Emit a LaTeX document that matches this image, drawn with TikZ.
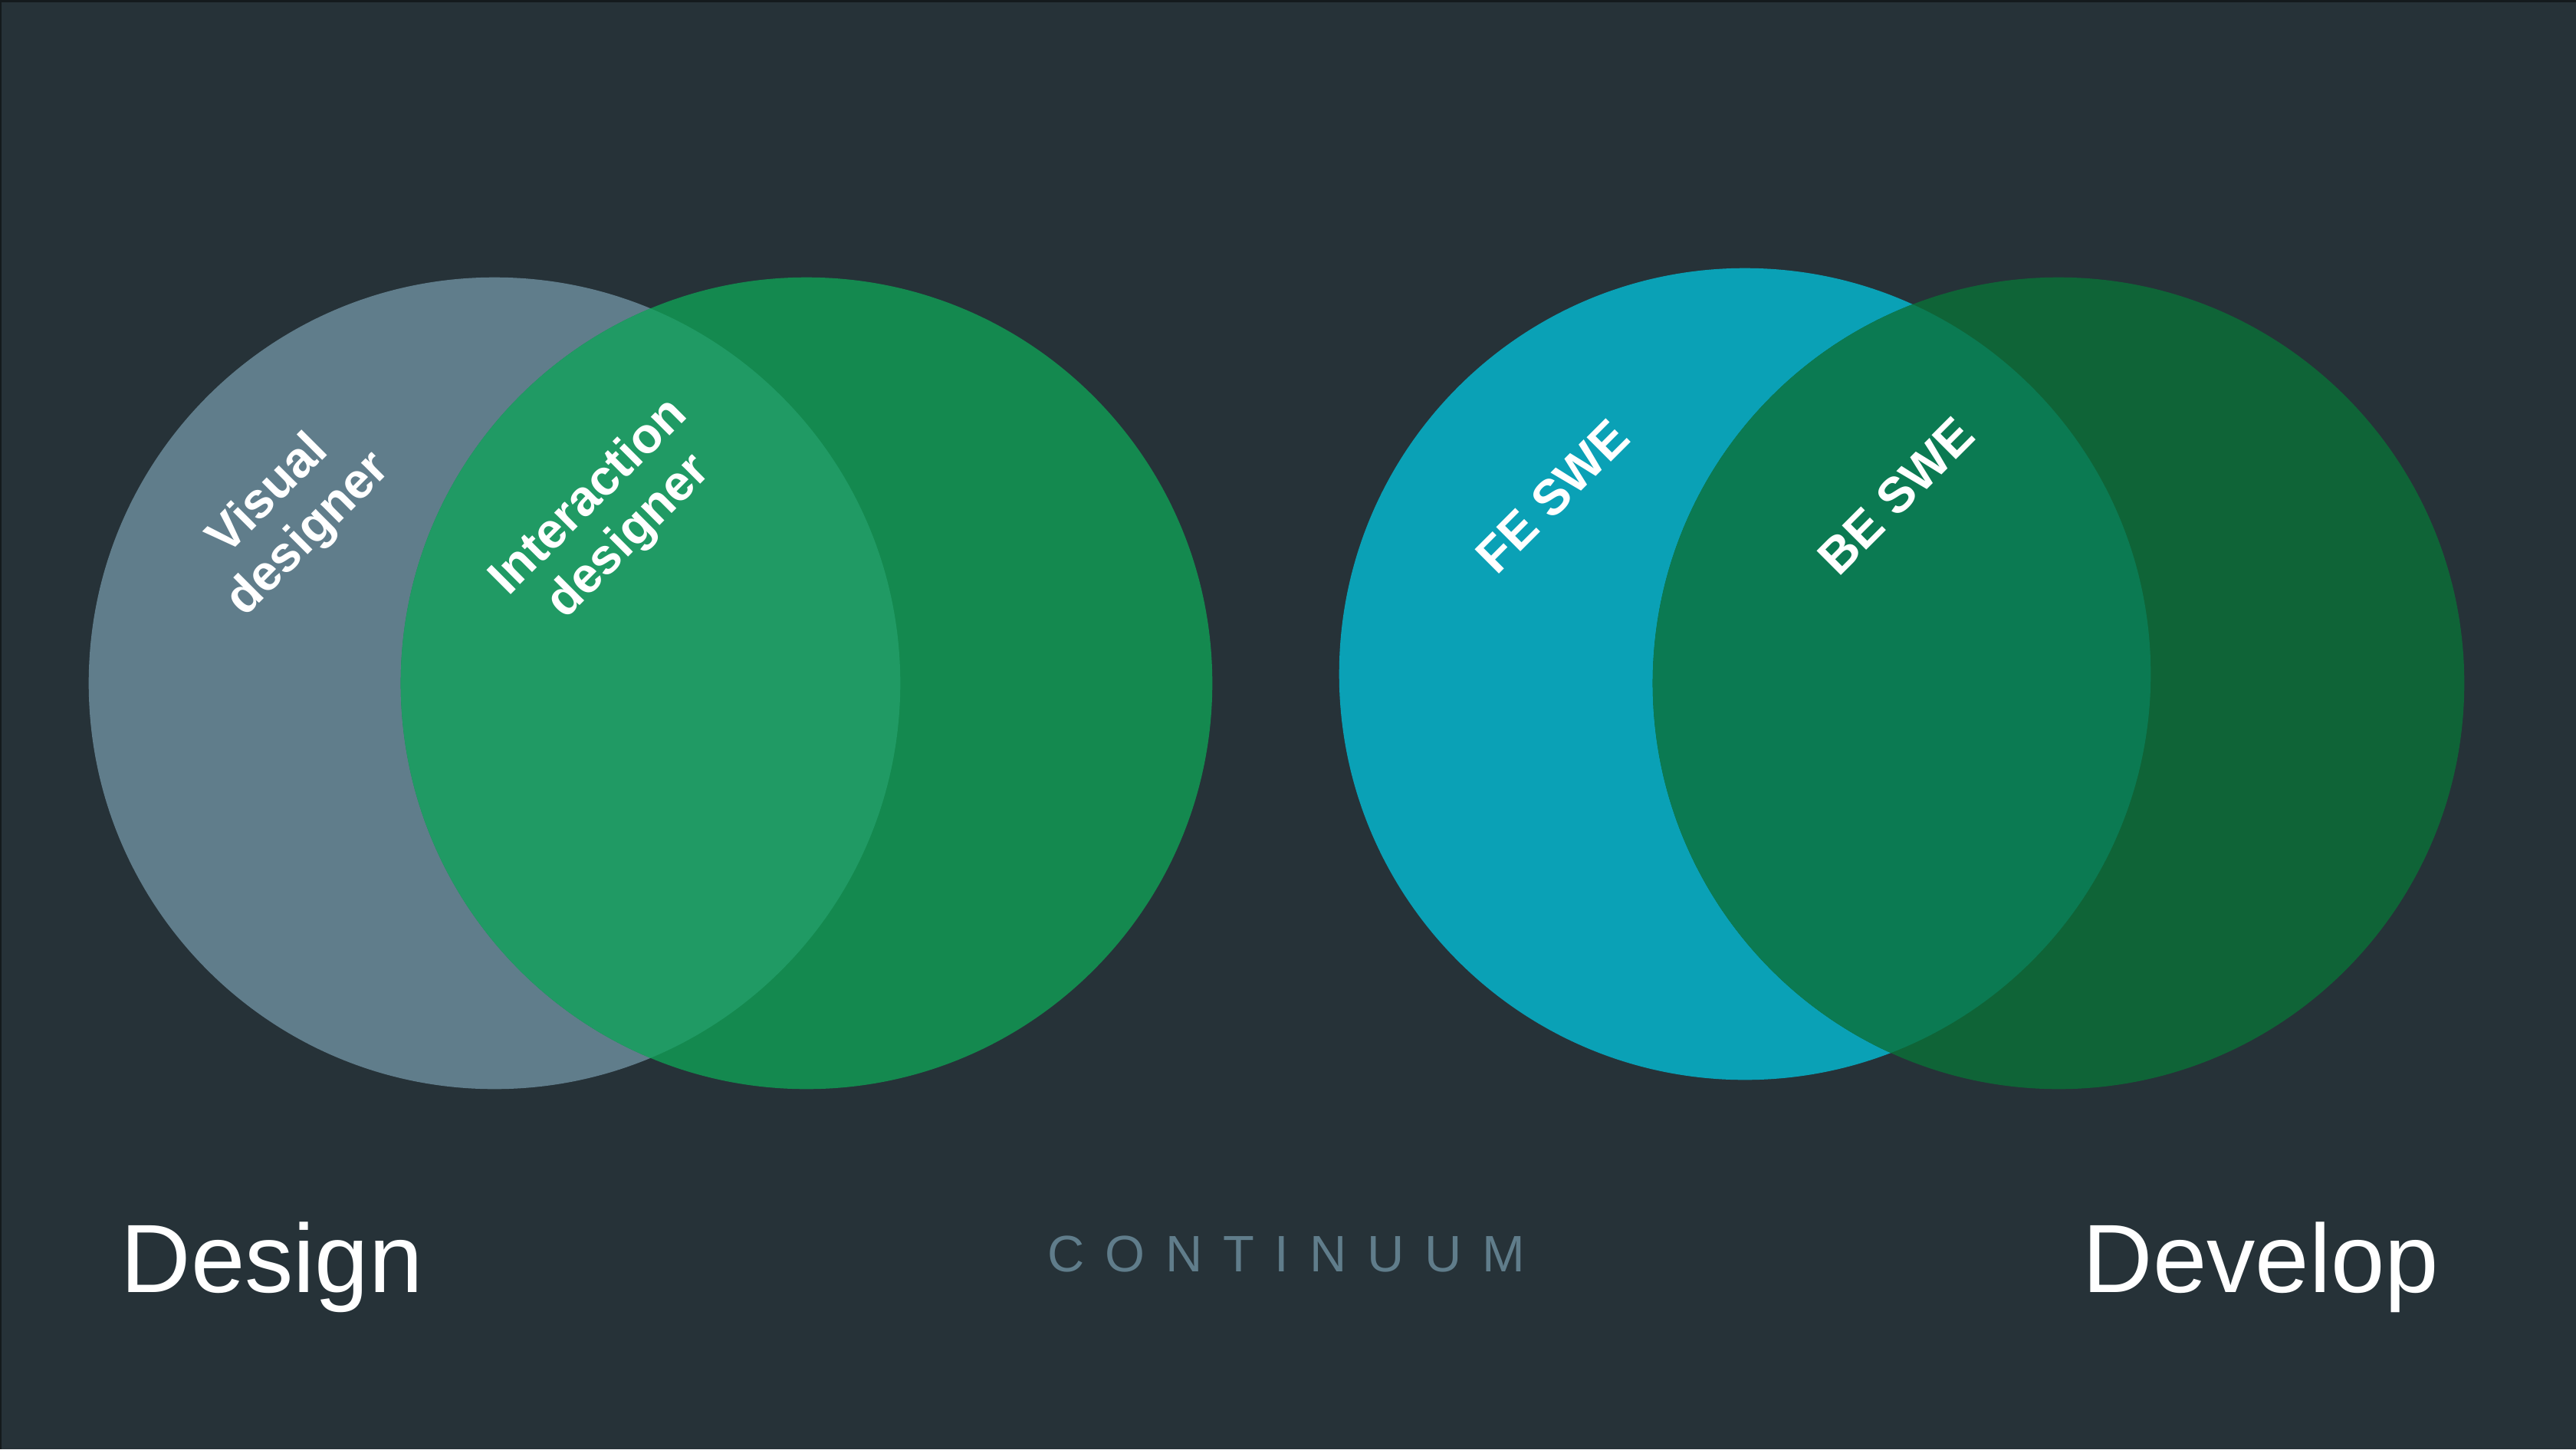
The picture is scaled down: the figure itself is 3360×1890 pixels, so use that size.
\documentclass[tikz,border=0pt]{standalone}
\usepackage{fontspec}
\setmainfont{Liberation Sans}
\definecolor{bg}{HTML}{263238}
\definecolor{frame}{HTML}{141A1D}
\definecolor{slate}{HTML}{607D8B}
\definecolor{leaf}{HTML}{14894F}
\definecolor{leafmix}{HTML}{209A64}
\definecolor{aqua}{HTML}{0AA1B6}
\definecolor{forest}{HTML}{0F6437}
\definecolor{forestmix}{HTML}{0B7A52}
\begin{document}
\begin{tikzpicture}[x=0.01cm,y=-0.01cm,
  disc/.style={circle,inner sep=0pt,minimum size=10.58cm,draw=none},
  rolelabel/.style={text=white,align=center,rotate=45,inner sep=0pt,
    font=\bfseries\fontsize{18.5}{21}\selectfont},
  sidelabel/.style={text=white,inner sep=0pt,font=\fontsize{36}{40}\selectfont},
  midlabel/.style={text=slate,inner sep=0pt,
    font=\fontsize{19}{22}\selectfont\addfontfeature{LetterSpace=40}}]
\useasboundingbox (0,0) rectangle (3360,1890);
\fill[bg] (0,0) rectangle (3360,1890);
\fill[frame] (0,0) rectangle (3360,3);
\fill[frame] (0,0) rectangle (2,1890);

% design pair
\node[disc,fill=slate] (visual) at (645,891) {};
\node[disc,fill=leaf] (interact) at (1052,891) {};
\begin{scope}
  \clip (visual.center) circle[radius=5.29cm];
  \fill[leafmix] (interact.center) circle[radius=5.29cm];
\end{scope}

% develop pair
\node[disc,fill=aqua] (front) at (2276,879) {};
\node[disc,fill=forest] (back) at (2685,891) {};
\begin{scope}
  \clip (front.center) circle[radius=5.29cm];
  \fill[forestmix] (back.center) circle[radius=5.29cm];
\end{scope}

% role labels
\node[rolelabel] (vlab) at (377,672) {Visual\\designer};
\node[rolelabel] (ilab) at (795,675) {Interaction\\designer};
\node[rolelabel] (felab) at (2025,647) {FE SWE};
\node[rolelabel] (belab) at (2473,647) {BE SWE};

% axis labels
\node[sidelabel,anchor=base west] (design) at (157,1685) {Design};
\node[sidelabel,anchor=base east] (develop) at (3182,1685) {Develop};
\node[midlabel,anchor=base west] (continuum) at (1366,1658) {CONTINUUM};
\end{tikzpicture}
\end{document}
